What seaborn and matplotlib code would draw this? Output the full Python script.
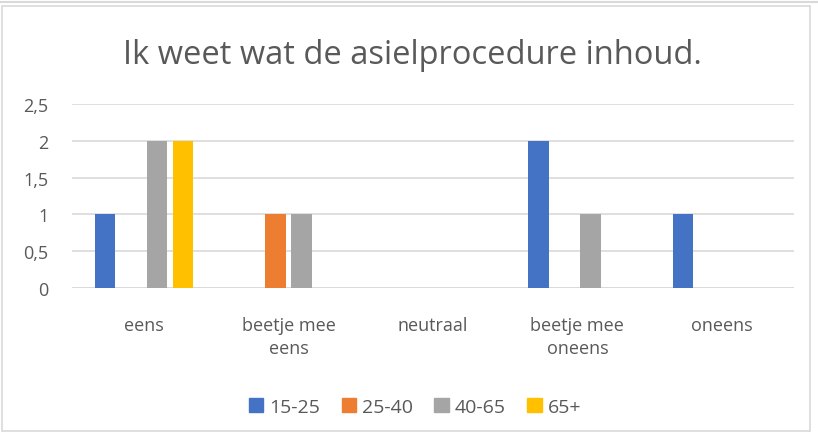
import matplotlib
matplotlib.use("Agg")
import matplotlib.pyplot as plt
import seaborn as sns
import pandas as pd
from matplotlib.patches import Rectangle
from matplotlib.lines import Line2D

categories = ["eens", "beetje mee\neens", "neutraal", "beetje mee\noneens", "oneens"]
series_names = ["15-25", "25-40", "40-65", "65+"]
v_15_25 = [1, 0, 0, 2, 1]
v_25_40 = [0, 1, 0, 0, 0]
v_40_65 = [2, 1, 0, 1, 0]
v_65 = [2, 0, 0, 0, 0]
colors = ["#4472C4", "#ED7D31", "#A5A5A5", "#FFC000"]
yticks = [0, 0.5, 1, 1.5, 2, 2.5]
ytick_labels = ["0", "0,5", "1", "1,5", "2", "2,5"]
title = "Ik weet wat de asielprocedure inhoud."

rows = []
for name, vals in zip(series_names, [v_15_25, v_25_40, v_40_65, v_65]):
    for c, v in zip(categories, vals):
        rows.append({"cat": c, "group": name, "val": v})
df = pd.DataFrame(rows)

sns.set_theme(style="white")
plt.rcParams["font.family"] = ["Open Sans", "DejaVu Sans"]
txt = "#595959"

W, H = 818, 439
fig = plt.figure(figsize=(W / 100, H / 100), dpi=100)
ax = fig.add_axes([72 / W, 1 - 289 / H, (794 - 72) / W, (289 - 105) / H])

sns.barplot(data=df, x="cat", y="val", hue="group", order=categories,
            hue_order=series_names, palette=colors, width=0.72, gap=0.22,
            saturation=1, linewidth=0, ax=ax, legend=True)

ax.set_ylim(0, 2.5)
ax.set_xlim(-0.5, len(categories) - 0.5)
ax.set_yticks(yticks)
ax.set_yticklabels(ytick_labels)
ax.yaxis.grid(True, color="#D9D9D9", linewidth=1.2)
ax.set_axisbelow(True)
for s in ax.spines.values():
    s.set_visible(False)
ax.axhline(0, color="#D9D9D9", linewidth=1.2, zorder=0)
ax.tick_params(axis="y", length=0, pad=17, labelsize=13, labelcolor=txt)
ax.tick_params(axis="x", length=0, pad=20, labelsize=13, labelcolor=txt)
for lbl in ax.get_xticklabels():
    lbl.set_linespacing(1.35)
ax.set_xlabel("")
ax.set_ylabel("")

leg = ax.get_legend()
handles = [Rectangle((0, 0), 1, 1, color=c) for c in colors]
leg.remove()
fig.legend(handles, series_names, loc="center", bbox_to_anchor=(415 / W, 1 - 408 / H),
           ncol=4, frameon=False, fontsize=14, labelcolor=txt,
           handlelength=0.75, handleheight=0.75, handletextpad=0.3, columnspacing=1.1)

fig.text(412 / W, 1 - 55 / H, title, ha="center", va="center", fontsize=23.5, color=txt)

# chart frame
fig.add_artist(Rectangle((2 / W, 1 - 432 / H), (810 - 2) / W, (432 - 7) / H,
                         transform=fig.transFigure, fill=False, edgecolor="#D9D9D9", linewidth=1.2))
fig.add_artist(Line2D([0, 1], [1 - 2.5 / H, 1 - 2.5 / H], transform=fig.transFigure,
                      color="#D9D9D9", linewidth=1.5))

fig.savefig("out.png", dpi=100)
